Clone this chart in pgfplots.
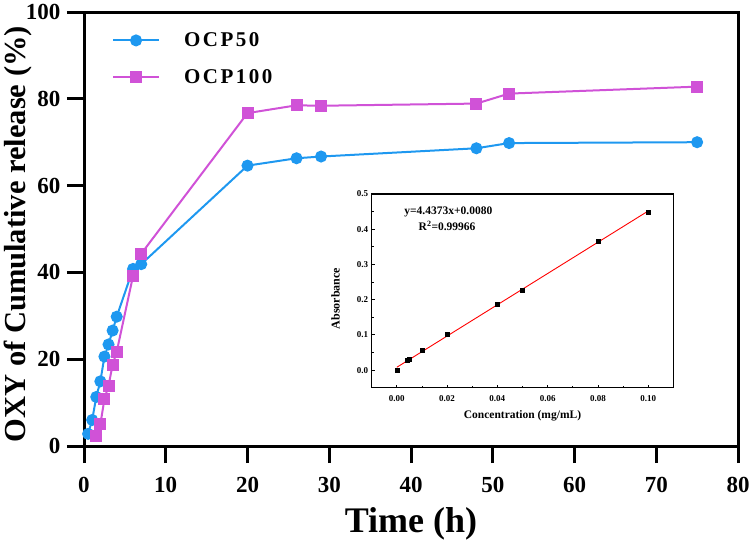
\documentclass[border=0pt]{standalone}
\usepackage{pgfplots}
\pgfplotsset{compat=1.18}
\usepackage{fontspec}
\setmainfont{Liberation Serif}
\definecolor{blueC}{RGB}{30,152,240}
\definecolor{magC}{RGB}{208,82,215}
\begin{document}
\begin{tikzpicture}
\begin{axis}[
  width=654pt, height=434pt, scale only axis,
  xmin=0, xmax=80, ymin=0, ymax=100,
  xtick={0,10,...,80}, ytick={0,20,...,100},
  tick align=outside, xtick pos=left, ytick pos=left,
  major tick length=17pt,
  axis line style={line width=3pt},
  tick style={line width=3pt, black},
  /pgf/number format/assume math mode=true,
  tick label style={font=\fontsize{23}{23}\selectfont\bfseries},
  xticklabel style={yshift=-11pt},
  yticklabel style={xshift=-3pt},
  xlabel={Time (h)},
  ylabel={OXY of Cumulative release (\%)},
  x label style={at={(axis description cs:0.5,-0.18)}, anchor=center, font=\fontsize{36}{36}\selectfont\bfseries},
  y label style={at={(axis description cs:-0.101,0.488)}, anchor=center, rotate=0, font=\fontsize{30.5}{30.5}\selectfont\bfseries},
  legend style={draw=none, fill=none, at={(0.038,0.962)}, anchor=north west,
    font=\fontsize{21}{21}\selectfont\bfseries, row sep=17pt, column sep=18pt,
    nodes={inner xsep=6pt}},
  legend cell align=left,
  legend image code/.code={\draw[mark repeat=2,mark phase=2,#1] plot coordinates {(0pt,0pt) (23pt,0pt) (46pt,0pt)};},
]
\addplot[color=blueC, line width=2pt, mark=*, mark size=5pt, mark options={fill=blueC, draw=blueC}]
 coordinates {(0.5,2.8)(1,6.0)(1.5,11.3)(2,14.9)(2.5,20.6)(3,23.4)(3.5,26.6)(4,29.8)(6,40.8)(7,41.9)(20,64.6)(26,66.3)(29,66.7)(48,68.6)(52,69.8)(75,70.0)};
\addlegendentry{\addfontfeatures{LetterSpace=12}OCP50}
\addplot[color=magC, line width=2pt, mark=square*, mark size=5pt, mark options={fill=magC, draw=magC}]
 coordinates {(1.5,2.4)(2,5.0)(2.5,10.8)(3,13.9)(3.5,18.7)(4,21.7)(6,39.2)(7,44.3)(20,76.7)(26,78.5)(29,78.4)(48,78.9)(52,81.2)(75,82.8)};
\addlegendentry{\addfontfeatures{LetterSpace=12}OCP100}
\end{axis}
\begin{axis}[
  at={(287.7pt,58.3pt)}, anchor=south west,
  width=301.6pt, height=193.7pt, scale only axis,
  xmin=-0.01, xmax=0.11, ymin=-0.05, ymax=0.5,
  xtick={0,0.02,...,0.1}, ytick={0,0.1,...,0.5},
  minor x tick num=1, minor y tick num=1,
  tick align=inside, xtick pos=left, ytick pos=left,
  major tick length=3pt, minor tick length=2pt,
  axis line style={line width=1.2pt},
  tick style={line width=0.8pt, black},
  /pgf/number format/assume math mode=true,
  xticklabel style={yshift=-4pt, /pgf/number format/.cd, fixed, fixed zerofill, precision=2},
  yticklabel style={/pgf/number format/.cd, fixed, fixed zerofill, precision=1},
  tick label style={font=\fontsize{9}{9}\selectfont\bfseries},
  xlabel={Concentration (mg/mL)},
  ylabel={Absorbance},
  x label style={at={(axis description cs:0.5,-0.145)}, anchor=center, font=\fontsize{11.5}{11.5}\selectfont\bfseries},
  y label style={at={(axis description cs:-0.12,0.46)}, anchor=center, font=\fontsize{12}{12}\selectfont\bfseries},
]
\addplot[red, line width=0.9pt, no marks] coordinates {(0,0.008)(0.1,0.45173)};
\addplot[only marks, mark=square*, mark size=2pt, black]
 coordinates {(0,0.0)(0.004,0.028)(0.005,0.030)(0.01,0.056)(0.02,0.101)(0.04,0.186)(0.05,0.227)(0.08,0.367)(0.1,0.448)};
\node[font=\fontsize{11.5}{11.5}\selectfont\bfseries, anchor=center] at (axis cs:0.0205,0.45) {y=4.4373x+0.0080};
\node[font=\fontsize{11.5}{11.5}\selectfont\bfseries, anchor=center] at (axis cs:0.0200,0.409) {R$^{\mathbf{2}}$=0.99966};
\end{axis}
\pgfresetboundingbox
\path (-84pt,-101pt) rectangle (670pt,446pt);
\end{tikzpicture}
\end{document}
